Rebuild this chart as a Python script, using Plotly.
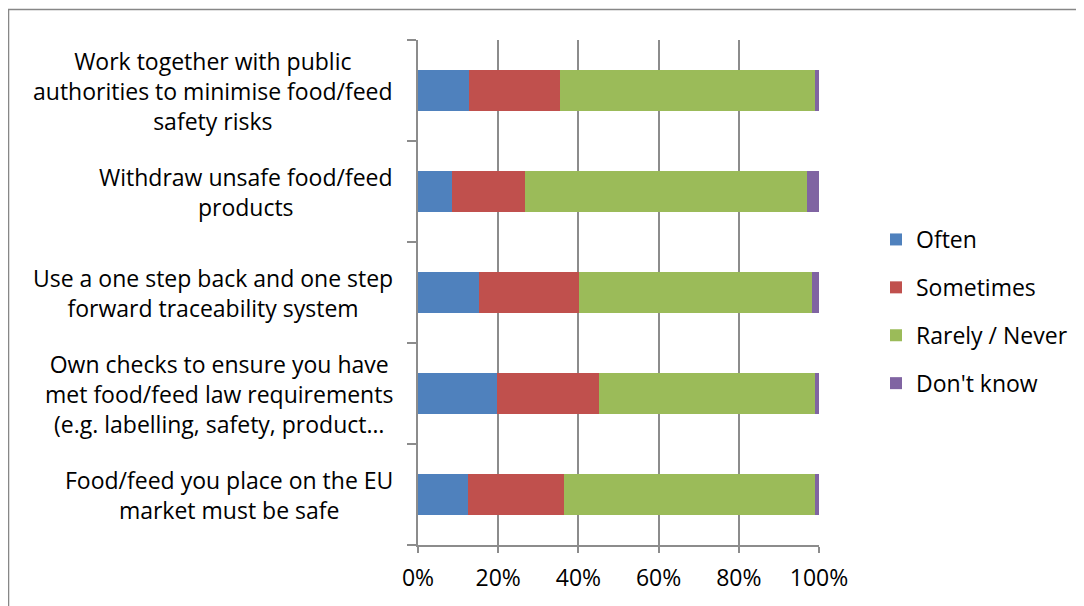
import plotly.graph_objects as go

categories = [
    "Food/feed you place on the EU<br>market must be safe",
    "Own checks to ensure you have<br>met food/feed law requirements<br>(e.g. labelling, safety, product…",
    "Use a one step back and one step<br>forward traceability system",
    "Withdraw unsafe food/feed<br>products",
    "Work together with public<br>authorities to minimise food/feed<br>safety risks",
]
often = [12.4, 19.6, 15.2, 8.4, 12.6]
sometimes = [23.9, 25.6, 25.0, 18.2, 22.9]
rarely_never = [62.6, 53.7, 58.0, 70.4, 63.4]
dont_know = [1.1, 1.1, 1.8, 3.0, 1.1]

series_names = ["Often", "Sometimes", "Rarely / Never", "Don't know"]
series_values = [often, sometimes, rarely_never, dont_know]
colors = ["#4F81BD", "#C0504D", "#9BBB59", "#8064A2"]
x_ticks = [0, 20, 40, 60, 80, 100]

FONT = "Open Sans"
FS = 23
OFF = 8  # default page body margin
W, H = 1084 - OFF, 606 - OFF
ML, MT = 418 - OFF, 40 - OFF
PW, PH = 402, 505
MR, MB = W - ML - PW, H - MT - PH


def px_x(x):
    return (x - OFF - ML) / PW


def px_y(y):
    return (MT + PH - (y - OFF)) / PH


fig = go.Figure()
for name, vals, col in zip(series_names, series_values, colors):
    fig.add_trace(go.Bar(
        y=list(range(len(categories))), x=vals, name=name, orientation="h",
        marker=dict(color=col, line=dict(width=0)), legendgroup=name,
        hoverinfo="x+name",
    ))

annotations = []
for i, cat in enumerate(categories):
    annotations.append(dict(
        text=cat, xref="paper", yref="y", x=px_x(395), y=i,
        xanchor="right", yanchor="middle", align="center", showarrow=False,
        font=dict(family=FONT, size=FS, color="#000000"),
    ))

fig.update_layout(
    width=W, height=H, autosize=False,
    margin=dict(l=ML, r=MR, t=MT, b=MB, pad=0),
    paper_bgcolor="white", plot_bgcolor="white",
    barmode="stack", bargap=0.59,
    font=dict(family=FONT, size=FS, color="#000000"),
    xaxis=dict(
        range=[0, 100], tickvals=x_ticks, ticktext=[f"{v}%" for v in x_ticks],
        showgrid=True, gridcolor="#8C8C8C", gridwidth=1.5,
        showline=True, linecolor="#8C8C8C", linewidth=1.5,
        ticks="outside", ticklen=6, tickcolor="#8C8C8C", tickwidth=1.5,
        ticklabelstandoff=6,
        zeroline=False, fixedrange=True,
        tickfont=dict(family=FONT, size=FS, color="#000000"),
    ),
    yaxis=dict(
        range=[-0.5, len(categories) - 0.5], tickmode="array",
        tickvals=[i - 0.5 for i in range(len(categories) + 1)],
        showticklabels=False, showgrid=False,
        showline=True, linecolor="#8C8C8C", linewidth=1.5,
        ticks="outside", ticklen=9, tickcolor="#8C8C8C", tickwidth=1.5,
        zeroline=False, fixedrange=True,
    ),
    legend=dict(
        x=px_x(876), y=px_y(218), xanchor="left", yanchor="top",
        traceorder="grouped", tracegroupgap=15,
        font=dict(family=FONT, size=FS, color="#000000"),
        bgcolor="rgba(0,0,0,0)", itemwidth=30,
    ),
    annotations=annotations,
    shapes=[dict(
        type="rect", xref="paper", yref="paper",
        x0=px_x(7.5), x1=px_x(W + 40),
        y0=px_y(H + 40), y1=px_y(9.5),
        line=dict(color="#878787", width=1.5), fillcolor="rgba(0,0,0,0)",
        layer="below",
    )],
)

fig.write_html("out.html")
